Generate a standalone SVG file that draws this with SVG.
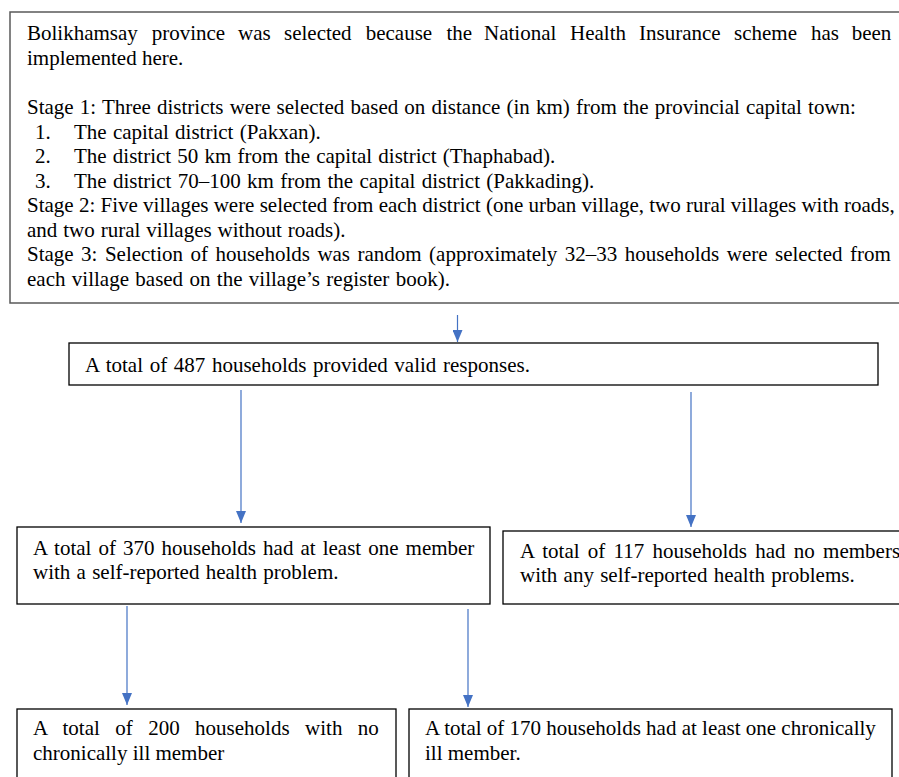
<svg xmlns="http://www.w3.org/2000/svg" width="899" height="777" viewBox="0 0 899 777">
<defs>
<style>
text{font-family:"Liberation Serif","Times New Roman",serif;font-size:21px;fill:#000}
.box{fill:#fff;stroke:#000;stroke-width:1.3}
.gbox{fill:#fff;stroke:#595959;stroke-width:1.5}
.conn{stroke:#4472C4;stroke-width:1.2;fill:none;marker-end:url(#ah)}
</style>
<marker id="ah" viewBox="0 0 12 10" refX="12" refY="5" markerWidth="12" markerHeight="10" markerUnits="userSpaceOnUse" orient="auto">
<path d="M0,0 L12,5 L0,10 z" fill="#4472C4"/>
</marker>
</defs>
<rect width="899" height="777" fill="#fff"/>
<g id="node-intro">
<rect class="gbox" x="10" y="12" width="900" height="291"/>
<text y="40"><tspan x="27">Bolikhamsay</tspan><tspan x="151.7">province</tspan><tspan x="238">was</tspan><tspan x="284">selected</tspan><tspan x="365.7">because</tspan><tspan x="446.5">the</tspan><tspan x="484">National</tspan><tspan x="570">Health</tspan><tspan x="639">Insurance</tspan><tspan x="734">scheme</tspan><tspan x="811">has</tspan><tspan x="851.7">been</tspan></text>
<text x="27" y="65">implemented here.</text>
<text x="27" y="114.3" word-spacing="0.9">Stage 1: Three districts were selected based on distance (in km) from the provincial capital town:</text>
<text x="35" y="138.5">1.</text><text x="74" y="138.5" word-spacing="1">The capital district (Pakxan).</text>
<text x="35" y="163">2.</text><text x="74" y="163" word-spacing="0.9">The district 50 km from the capital district (Thaphabad).</text>
<text x="35" y="187.6">3.</text><text x="74" y="187.6" word-spacing="1.1">The district 70–100 km from the capital district (Pakkading).</text>
<text x="27" y="212.2">Stage 2: Five villages were selected from each district (one urban village, two rural villages with roads,</text>
<text x="27" y="236.7" word-spacing="0.7">and two rural villages without roads).</text>
<text x="27" y="261.4" word-spacing="2.2">Stage 3: Selection of households was random (approximately 32–33 households were selected from</text>
<text x="27" y="286" word-spacing="1.1">each village based on the village’s register book).</text>
</g>
<g id="node-total">
<rect class="box" x="69" y="343" width="809" height="42"/>
<text x="85" y="371.7" word-spacing="1.4">A total of 487 households provided valid responses.</text>
</g>
<g id="node-370">
<rect class="box" x="17" y="527" width="473" height="77"/>
<text x="33" y="555" word-spacing="1.8">A total of 370 households had at least one member</text>
<text x="33" y="578.5" word-spacing="1">with a self-reported health problem.</text>
</g>
<g id="node-117">
<rect class="box" x="503" y="531" width="420" height="73"/>
<text x="520" y="558" word-spacing="3">A total of 117 households had no members</text>
<text x="520" y="582" word-spacing="1">with any self-reported health problems.</text>
</g>
<g id="node-200">
<rect class="box" x="17" y="709" width="379" height="90"/>
<text x="33" y="735" word-spacing="10.2">A total of 200 households with no</text>
<text x="33" y="760">chronically ill member</text>
</g>
<g id="node-170">
<rect class="box" x="409" y="709" width="483" height="90"/>
<text x="425" y="735">A total of 170 households had at least one chronically</text>
<text x="425" y="760">ill member.</text>
</g>
<g id="connectors">
<line class="conn" x1="457.5" y1="315" x2="457.5" y2="342"/>
<line class="conn" x1="241" y1="390" x2="241" y2="523"/>
<line class="conn" x1="691" y1="392" x2="691" y2="527"/>
<line class="conn" x1="127" y1="606" x2="127" y2="705"/>
<line class="conn" x1="468" y1="609" x2="468" y2="707"/>
</g>
</svg>
